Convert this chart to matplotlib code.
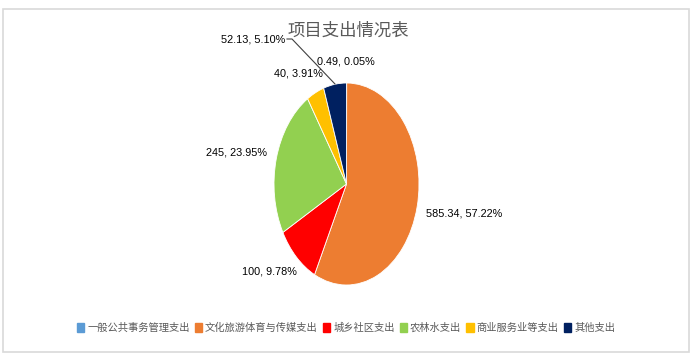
import matplotlib
matplotlib.use("Agg")
import matplotlib.pyplot as plt
from matplotlib.patches import Rectangle
from matplotlib.lines import Line2D

plt.rcParams['font.family'] = ['Noto Sans CJK SC', 'DejaVu Sans']

categories = ['一般公共事务管理支出', '文化旅游体育与传媒支出', '城乡社区支出', '农林水支出', '商业服务业等支出', '其他支出']
values = [0.49, 585.34, 100, 245, 40, 52.13]
title = '项目支出情况表'

colors = ['#5B9BD5', '#ED7D31', '#FF0000', '#92D050', '#FFC000', '#002060']
# label anchor positions in reference pixels (x, y, ha)
label_pos = [(346, 62, 'center'), (426, 213, 'left'), (297, 272, 'right'),
             (267, 153, 'right'), (323, 73, 'right'), (285, 39, 'right')]

W, H = 695, 361
fig = plt.figure(figsize=(W / 100, H / 100), dpi=100)

def fx(x):
    return x / W

def fy(y):
    return 1 - y / H

# border
fig.add_artist(Rectangle((fx(2.5), fy(352)), fx(689) - fx(2.5), fy(8.5) - fy(352),
                         transform=fig.transFigure, fill=False, edgecolor='#D9D9D9', lw=1.2))

# pie axes (elliptical pie)
left, right, top, bottom = 274, 419, 83, 285
ax = fig.add_axes([fx(left), fy(bottom), fx(right) - fx(left), fy(top) - fy(bottom)])
wedges, _ = ax.pie(values, colors=colors, startangle=90, counterclock=False,
                   wedgeprops=dict(edgecolor='white', linewidth=0.6))
ax.set_aspect('auto')
ax.set_xlim(-1, 1)
ax.set_ylim(-1, 1)
ax.axis('off')

total = sum(values)
lbl_font = ['Liberation Sans', 'DejaVu Sans']
for v, (x, y, ha) in zip(values, label_pos):
    txt = f"{v:g}, {v / total * 100:.2f}%"
    fig.text(fx(x), fy(y), txt, ha=ha, va='center', fontsize=7.8,
             family=lbl_font, color='#000000')

# leader line for the 52.13 label
fig.add_artist(Line2D([fx(287), fx(292), fx(335)], [fy(39), fy(39), fy(84)],
                      transform=fig.transFigure, color='#404040', lw=0.8))

fig.text(fx(348), fy(31), title, ha='center', va='center', fontsize=12.5, color='#595959')

handles = [Rectangle((0, 0), 1, 1, color=c) for c in colors]
fig.legend(handles, categories, loc='center', bbox_to_anchor=(fx(346), fy(328)),
           ncol=6, frameon=False, fontsize=7.4, labelcolor='#595959',
           handlelength=0.7, handleheight=0.9, handletextpad=0.3, columnspacing=0.5,
           borderpad=0)

fig.savefig('out.png', dpi=100)
